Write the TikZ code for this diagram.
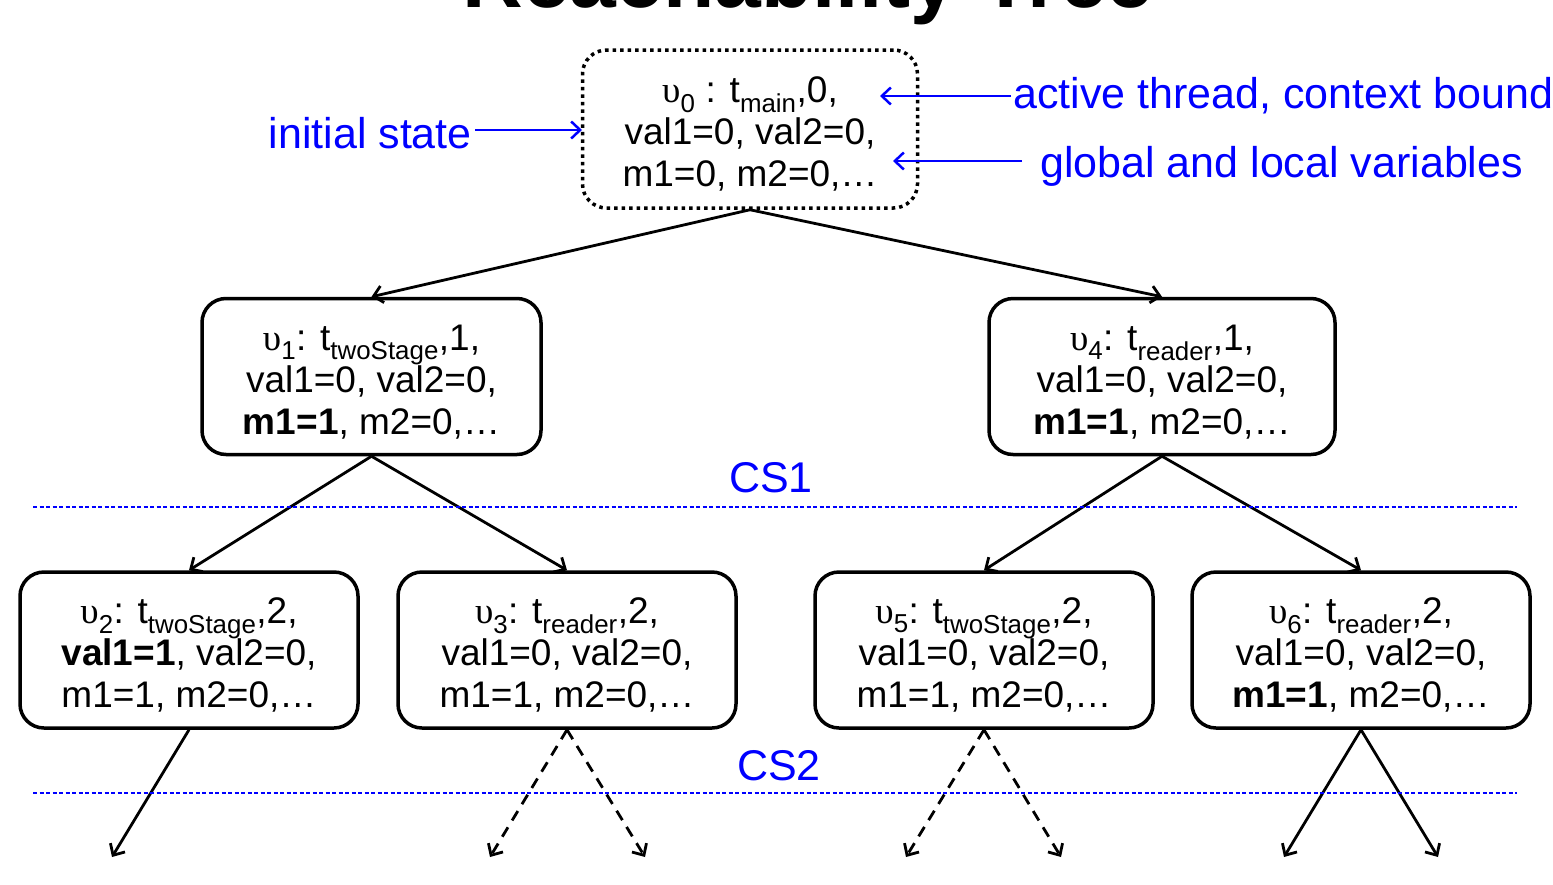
\documentclass[tikz,border=0pt]{standalone}
\usepackage{fontspec}
\setmainfont{Liberation Sans}
\newfontfamily\grk{Liberation Serif}
\usetikzlibrary{arrows.meta}
\newcommand{\sbt}[1]{\textsubscript{#1}}
\newcommand{\topstrut}{\rule{0pt}{36pt}}
\begin{document}
\begin{tikzpicture}[x=1pt,y=-1pt,
  state/.style={draw, line width=3.5pt, rounded corners=24pt, minimum width=338pt,
    minimum height=156pt, inner sep=0pt, align=center,
    font=\fontsize{37}{42}\selectfont},
  initstate/.style={state, line width=3.5pt, dash pattern=on 3.5pt off 4pt,
    minimum width=335pt, minimum height=158pt},
  edge/.style={line width=2.8pt, -{Straight Barb[length=9pt,width=17pt,line width=2.8pt]}},
  dedge/.style={edge, dash pattern=on 11pt off 8pt},
  note/.style={text=blue, font=\fontsize{43}{48}\selectfont, inner sep=0pt},
  narrow/.style={draw=blue, line width=2.5pt, -{Straight Barb[length=9pt,width=17pt,line width=2.5pt]}},
  sepline/.style={draw=blue, line width=1.3pt, dash pattern=on 4pt off 2.5pt},
]
\useasboundingbox (0,0) rectangle (1553,884);

\node[font=\fontsize{84}{90}\selectfont\bfseries, anchor=base] (title) at (808,7) {Reachability Tree};

\node[initstate] (v0) at (750,129) {\topstrut{\grk υ}\sbt{0} : t\sbt{main},0,\\ val1=0, val2=0,\\ m1=0, m2=0,…};
\node[state, minimum width=339pt] (v1) at (371.5,376.5) {\topstrut{\grk υ}\sbt{1}: t\sbt{twoStage},1,\\ val1=0, val2=0,\\ \textbf{m1=1}, m2=0,…};
\node[state, minimum width=346pt] (v4) at (1162,376.5) {\topstrut{\grk υ}\sbt{4}: t\sbt{reader},1,\\ val1=0, val2=0,\\ \textbf{m1=1}, m2=0,…};
\node[state] (v2) at (189,650) {\topstrut{\grk υ}\sbt{2}: t\sbt{twoStage},2,\\ \textbf{val1=1}, val2=0,\\ m1=1, m2=0,…};
\node[state] (v3) at (567,650) {\topstrut{\grk υ}\sbt{3}: t\sbt{reader},2,\\ val1=0, val2=0,\\ m1=1, m2=0,…};
\node[state] (v5) at (984,650) {\topstrut{\grk υ}\sbt{5}: t\sbt{twoStage},2,\\ val1=0, val2=0,\\ m1=1, m2=0,…};
\node[state] (v6) at (1361,650) {\topstrut{\grk υ}\sbt{6}: t\sbt{reader},2,\\ val1=0, val2=0,\\ \textbf{m1=1}, m2=0,…};

\draw[edge] (v0.south) -- (v1.north);
\draw[edge] (v0.south) -- (v4.north);
\draw[edge] (v1.south) -- (v2.north);
\draw[edge] (v1.south) -- (v3.north);
\draw[edge] (v4.south) -- (v5.north);
\draw[edge] (v4.south) -- (v6.north);

\coordinate (e2) at (112,857);
\coordinate (e3a) at (490,857);
\coordinate (e3b) at (645,857);
\coordinate (e5a) at (906,857);
\coordinate (e5b) at (1061,857);
\coordinate (e6a) at (1284,857);
\coordinate (e6b) at (1438,857);
\draw[edge] (v2.south) -- (e2);
\draw[dedge] (v3.south) -- (e3a);
\draw[dedge] (v3.south) -- (e3b);
\draw[dedge] (v5.south) -- (e5a);
\draw[dedge] (v5.south) -- (e5b);
\draw[edge] (v6.south) -- (e6a);
\draw[edge] (v6.south) -- (e6b);

\draw[sepline] (33,507) -- (1517,507);
\draw[sepline] (33,793) -- (1517,793);
\node[note] (cs1) at (771,478) {CS1};
\node[note] (cs2) at (779,766) {CS2};

\node[note, anchor=east, inner xsep=3pt] (init) at (475,133) {initial state};
\node[note, anchor=west, inner xsep=2pt] (act) at (1011,96) {active thread, context bound};
\node[note, anchor=west, inner xsep=18pt] (glob) at (1022,166) {global and local variables};
\coordinate (a0) at (582,130);
\coordinate (a1) at (880,96);
\coordinate (a2) at (893,161);
\draw[narrow] (init.east |- a0) -- (a0);
\draw[narrow] (act.west |- a1) -- (a1);
\draw[narrow] (glob.west |- a2) -- (a2);
\end{tikzpicture}
\end{document}
